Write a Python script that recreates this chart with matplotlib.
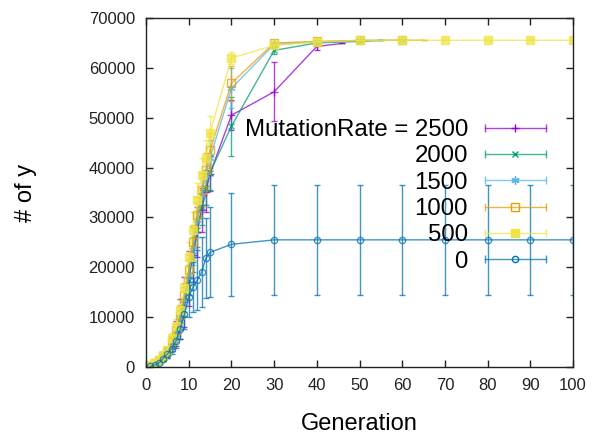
import matplotlib
matplotlib.use("Agg")
import matplotlib.pyplot as plt
from matplotlib.lines import Line2D
from matplotlib.legend_handler import HandlerLine2D, HandlerTuple

plt.rcParams['font.family'] = ['Liberation Sans', 'DejaVu Sans']

early = list(range(1, 16))

# MutationRate = 2500
gen_2500 = early + [20, 30, 40, 46]
val_2500 = [200, 600, 1200, 1900, 2900, 4700, 6800, 9600, 13000, 17800, 22500, 27000,
            31500, 35000, 38800, 50500, 55200, 64300, 64900]
err_2500 = [100, 250, 450, 700, 1000, 1500, 2500, 4000, 5000, 5500, 5500, 5000,
            4500, 4000, 3500, 3000, 5900, 800, 0]

# MutationRate = 2000
gen_2000 = early + [20, 30, 40, 50, 55]
val_2000 = [200, 600, 1200, 1900, 2800, 4600, 6600, 9400, 12800, 17500, 22500, 27500,
            32000, 36000, 39000, 48300, 63500, 65000, 65300, 65500]
err_2000 = [80, 200, 350, 500, 700, 1000, 1500, 2000, 2500, 3000, 3500, 3500,
            3500, 3500, 3500, 5900, 800, 300, 200, 0]

# MutationRate = 1500
gen_1500 = early + [20, 30, 40, 50, 60]
val_1500 = [220, 650, 1300, 2000, 3000, 4900, 7000, 10000, 13500, 18500, 24000, 29500,
            34500, 38500, 42000, 55900, 64700, 65200, 65500, 65536]
err_1500 = [80, 200, 350, 500, 700, 1000, 1500, 2000, 2500, 3000, 3500, 3500,
            3500, 3500, 3500, 4000, 500, 200, 100, 0]

# MutationRate = 1000
gen_1000 = early + [20, 30, 40, 50, 60, 65]
val_1000 = [250, 700, 1400, 2200, 3200, 5200, 7400, 10500, 14300, 19500, 25000, 30500,
            35500, 39500, 43500, 56900, 65000, 65300, 65500, 65536, 65536]
err_1000 = [80, 200, 350, 500, 700, 1000, 1500, 2000, 2500, 3000, 3500, 3500,
            3500, 3500, 3500, 3500, 400, 200, 100, 0, 0]

# MutationRate = 500
gen_500 = early + [20, 30, 40, 50, 60, 70, 80, 90, 100]
val_500 = [300, 800, 1500, 2400, 3500, 5800, 8200, 11500, 15800, 22000, 27500, 33500,
           38500, 42000, 47000, 62000, 64500, 65200, 65500, 65536, 65536, 65536, 65536, 65536]
err_500 = [80, 200, 350, 500, 700, 1000, 1500, 2000, 2500, 3000, 3500, 3500,
           3500, 3500, 3300, 1200, 400, 200, 100, 0, 0, 0, 0, 0]

# MutationRate = 0
gen_0 = early + [20, 30, 40, 50, 60, 70, 80, 90, 100]
val_0 = [100, 400, 800, 1700, 2600, 3700, 5200, 7600, 10600, 14000, 16000, 17400,
         19000, 21800, 23000, 24600, 25500, 25500, 25500, 25500, 25500, 25500, 25500, 25500]
err_0 = [50, 150, 300, 500, 700, 1000, 1400, 2000, 3000, 4000, 5000, 6000,
         7000, 8000, 9000, 10300, 11000, 11000, 11000, 11000, 11000, 11000, 11000, 11000]

labels = ["MutationRate = 2500", "2000", "1500", "1000", "500", "0"]
series = [
    (gen_2500, val_2500, err_2500, "#9400d3", "+", "#9400d3", 6),
    (gen_2000, val_2000, err_2000, "#009e73", "x", "#009e73", 5),
    (gen_1500, val_1500, err_1500, "#56b4e9", (6, 2, 0), "#56b4e9", 6),
    (gen_1000, val_1000, err_1000, "#e69f00", "s", "none", 5.5),
    (gen_500, val_500, err_500, "#f0e442", "s", "#f0e442", 6),
    (gen_0, val_0, err_0, "#0072b2", "o", "none", 4.5),
]

x_ticks = list(range(0, 101, 10))
y_ticks = list(range(0, 70001, 10000))

fig = plt.figure(figsize=(5.97, 4.36), dpi=100)
ax = fig.add_axes([0.2446, 0.1583, 0.9598 - 0.2446, 0.9587 - 0.1583])

handles = []
handler_map = {}
for (gx, gy, ge, col, mk, fc, ms) in series:
    # runs that stopped early end on an unmarked point
    every = list(range(len(gx))) if gx[-1] % 10 == 0 else list(range(len(gx) - 1))
    ax.errorbar(gx, gy, yerr=ge, color=col, ecolor=col, elinewidth=1.0,
                capsize=2.5, capthick=1.0, lw=1.0, alpha=0.75,
                marker=mk, markersize=ms, markevery=every,
                markerfacecolor=fc, markeredgecolor=col, markeredgewidth=1.0)
    caps = Line2D([], [], color=col, lw=1.0, marker="|", markersize=6, alpha=0.75)
    mid = Line2D([], [], color=col, lw=0, marker=mk, markersize=ms,
                 markerfacecolor=fc, markeredgecolor=col, markeredgewidth=1.0)
    handler_map[caps] = HandlerLine2D(numpoints=2, marker_pad=0)
    handler_map[mid] = HandlerLine2D(numpoints=1)
    handles.append((caps, mid))

handler_map[tuple] = HandlerTuple(ndivide=1)

ax.set_xlim(0, 100)
ax.set_ylim(0, 70000)
ax.set_xticks(x_ticks)
ax.set_yticks(y_ticks)
ax.tick_params(direction="in", length=5, width=1, top=True, right=True,
               labelsize=12, colors="#222222", pad=8)
for sp in ax.spines.values():
    sp.set_linewidth(1.0)
    sp.set_color("#222222")

ax.set_xlabel("Generation", fontsize=17, labelpad=14)
ax.set_ylabel("# of y", fontsize=17, labelpad=37)

ax.legend(handles, labels, handler_map=handler_map, markerfirst=False,
          frameon=False, fontsize=17.3, handlelength=2.55, handletextpad=0.7,
          labelspacing=0.18, borderpad=0, loc="upper right",
          bbox_to_anchor=(0.965, 0.745))

fig.savefig("out.png", dpi=100)
